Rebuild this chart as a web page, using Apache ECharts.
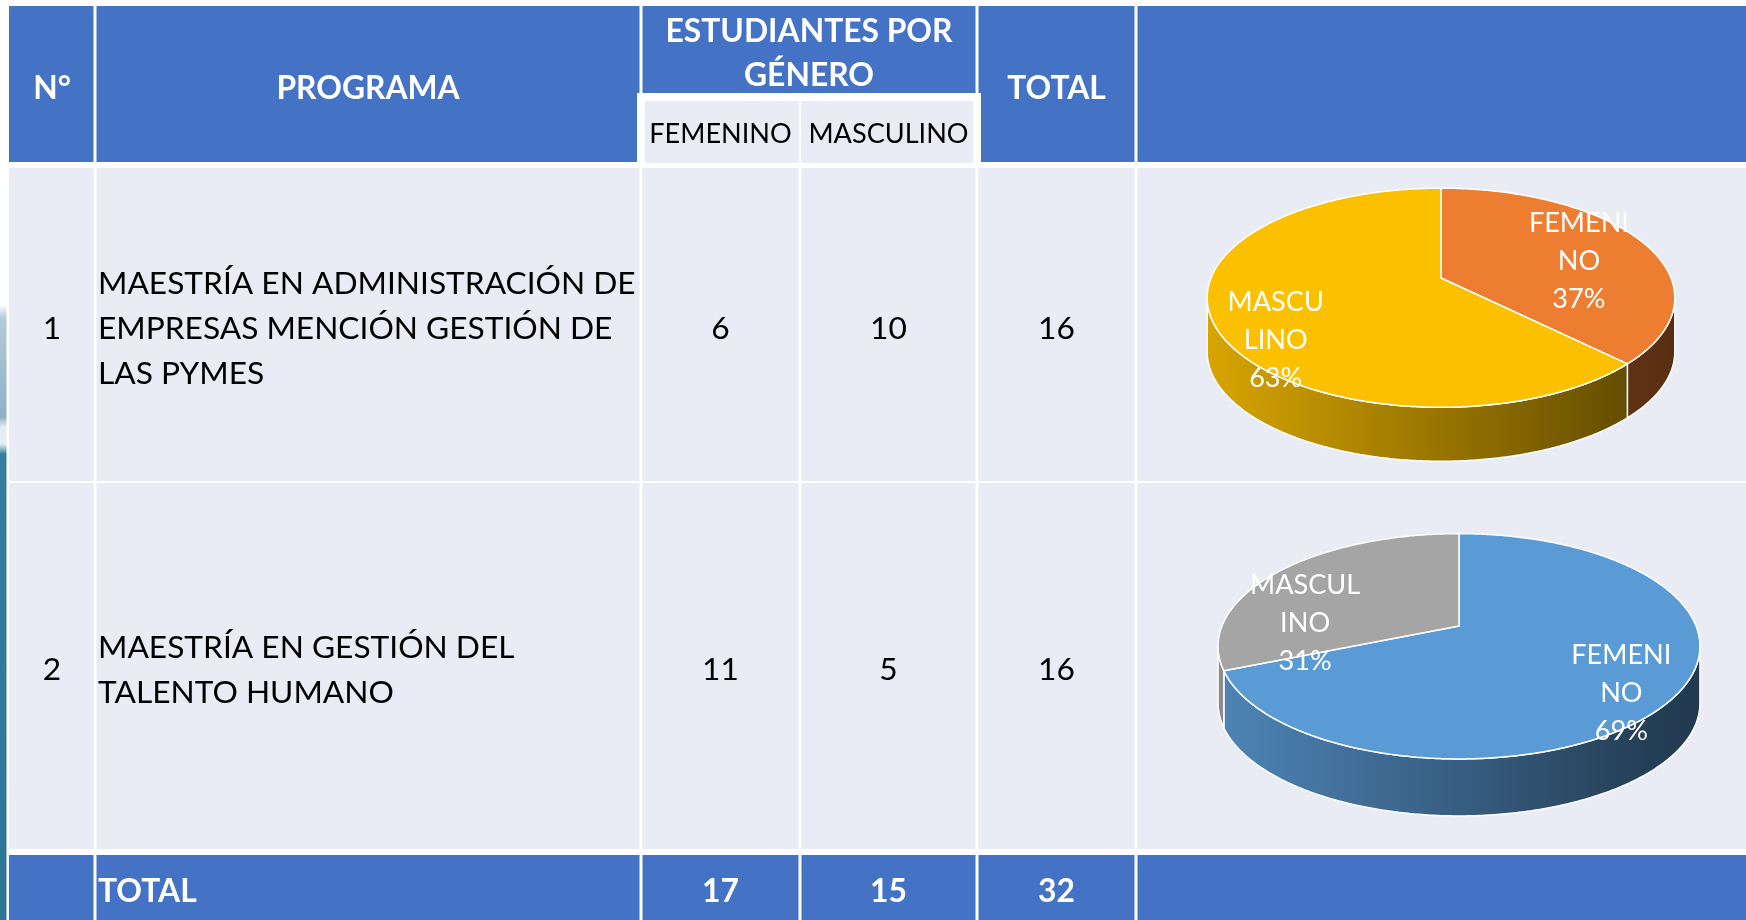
<!DOCTYPE html>
<html>
<head>
<meta charset="utf-8">
<title>Estudiantes por género</title>
<script src="https://cdn.jsdelivr.net/npm/echarts@6/dist/echarts.min.js"></script>
<style>
html, body { margin: 0; padding: 0; background: #fff; }
#main { width: 1746px; height: 920px; }
</style>
</head>
<body>
<div id="main"></div>
<script>
// datos de la tabla
var numeros = ['1', '2'];
var programas = [
    'MAESTRÍA EN ADMINISTRACIÓN DE\nEMPRESAS MENCIÓN GESTIÓN DE\nLAS PYMES',
    'MAESTRÍA EN GESTIÓN DEL\nTALENTO HUMANO'
];
var femenino = [6, 11];
var masculino = [10, 5];
var totales = [16, 16];
var filaTotal = [17, 15, 32];
var encabezados = ['N°', 'PROGRAMA', 'ESTUDIANTES POR\nGÉNERO', 'TOTAL'];
var generos = ['FEMENINO', 'MASCULINO'];
// etiquetas de las tortas (como aparecen cortadas)
var etiquetasPie = [['FEMENI\nNO', 'MASCU\nLINO'], ['FEMENI\nNO', 'MASCUL\nINO']];
var porcentajes = [['37%', '63%'], ['69%', '31%']];

var FONT = 'Lato, "Open Sans", sans-serif';
var AZUL = '#4472C4', CLARO = '#E9EBF5';

var ctx = document.createElement('canvas').getContext('2d');
function fitSize(text, weight, target) {
    ctx.font = weight + ' 100px ' + FONT;
    return Math.round(1000 * target / ctx.measureText(text).width) / 10;
}
var fsBody = fitSize('MAESTRÍA EN ADMINISTRACIÓN DE', 'normal', 538);
var fsHead = fitSize('ESTUDIANTES POR', 'bold', 287);
var fsSub = fitSize('MASCULINO', 'normal', 160);
var fsPie = fitSize('FEMENI', 'normal', 100);

var colX = [9, 95, 641, 800, 977, 1136, 1746];
var filas = [[168, 481], [483, 849]];

function rect(x0, y0, x1, y1, fill) {
    return { type: 'rect', z: 0, shape: { x: x0, y: y0, width: x1 - x0, height: y1 - y0 }, style: { fill: fill } };
}
function texto(x, y, t, size, weight, color, align, lh) {
    return {
        type: 'text', z: 1, x: x, y: y,
        style: {
            text: t, font: weight + ' ' + size + 'px ' + FONT, fill: color,
            textAlign: align || 'center', textVerticalAlign: 'middle', lineHeight: lh || size * 1.2
        }
    };
}

var els = [];
// franja decorativa izquierda
els.push({
    type: 'rect', z: 0, shape: { x: 0, y: 240, width: 6.5, height: 680 },
    style: {
        fill: new echarts.graphic.LinearGradient(0, 0, 0, 1, [
            { offset: 0, color: '#ffffff' }, { offset: 0.095, color: '#ffffff' },
            { offset: 0.115, color: '#b3cbdb' }, { offset: 0.26, color: '#8eb1c7' },
            { offset: 0.275, color: '#e4edf3' }, { offset: 0.3, color: '#e4edf3' },
            { offset: 0.315, color: '#367c9d' }, { offset: 1, color: '#2d7596' }
        ])
    }
});

// encabezado
els.push(rect(colX[0], 6, colX[1] - 1.5, 162, AZUL));
els.push(rect(colX[1] + 1.5, 6, colX[2] - 1.5, 162, AZUL));
els.push(rect(colX[2] + 1.5, 6, colX[4] - 1.5, 93, AZUL));
els.push(rect(colX[4] + 1.5, 6, colX[5] - 1.5, 162, AZUL));
els.push(rect(colX[5] + 1.5, 6, colX[6], 162, AZUL));
els.push(rect(637, 93, 981, 168, '#ffffff'));
els.push(rect(645, 101, colX[3] - 1, 163, CLARO));
els.push(rect(colX[3] + 1, 101, 973, 163, CLARO));

// filas de datos
filas.forEach(function (f) {
    for (var c = 0; c < 6; c++) {
        els.push(rect(c ? colX[c] + 1.5 : colX[0], f[0], c < 5 ? colX[c + 1] - 1.5 : colX[6], f[1], CLARO));
    }
});
// fila total
for (var c = 0; c < 6; c++) {
    els.push(rect(c ? colX[c] + 1.5 : colX[0], 855, c < 5 ? colX[c + 1] - 1.5 : colX[6], 920, AZUL));
}

function centro(c) { return (colX[c] + colX[c + 1]) / 2; }

els.push(texto(centro(0), 89, encabezados[0], fsHead, 'bold', '#fff'));
els.push(texto(centro(1), 89, encabezados[1], fsHead, 'bold', '#fff'));
els.push(texto((colX[2] + colX[4]) / 2, 54, encabezados[2], fsHead, 'bold', '#fff', 'center', 44));
els.push(texto(centro(4), 89, encabezados[3], fsHead, 'bold', '#fff'));
els.push(texto(centro(2), 134, generos[0], fsSub, 'normal', '#000'));
els.push(texto(centro(3), 134, generos[1], fsSub, 'normal', '#000'));

filas.forEach(function (f, i) {
    var y = (f[0] + f[1]) / 2 + 4;
    els.push(texto(centro(0), y, numeros[i], fsBody, 'normal', '#000'));
    els.push(texto(colX[1] + 3, y, programas[i], fsBody, 'normal', '#000', 'left', 45));
    els.push(texto(centro(2), y, String(femenino[i]), fsBody, 'normal', '#000'));
    els.push(texto(centro(3), y, String(masculino[i]), fsBody, 'normal', '#000'));
    els.push(texto(centro(4), y, String(totales[i]), fsBody, 'normal', '#000'));
});
els.push(texto(colX[1] + 3, 892, 'TOTAL', fsHead, 'bold', '#fff', 'left'));
for (var t = 0; t < 3; t++) {
    els.push(texto(centro(t + 2), 892, String(filaTotal[t]), fsHead, 'bold', '#fff'));
}

// tortas 3D
var pieLayout = [
    { cx: 1441, cy: 278, A: 230, B: 106, depth: 54, k: 0.18, colors: ['#ED7D31', '#FBC000'],
      labelR: 0.7, labelOffset: [[-4, 10], [-9, 32]] },
    { cx: 1459, cy: 626, A: 237, B: 109, depth: 57, k: 0.18, colors: ['#5B9BD5', '#A5A5A5'],
      labelR: 0.7, labelOffset: [[14, 22], [-25, 37]] }
];

function shade(hex, f) {
    var n = parseInt(hex.slice(1), 16);
    return 'rgb(' + Math.round(((n >> 16) & 255) * f) + ',' + Math.round(((n >> 8) & 255) * f) + ',' + Math.round((n & 255) * f) + ')';
}

function pieRender(L, labels, pcts) {
    return function (params, api) {
        var i = params.dataIndex;
        var val = api.value(0), before = api.value(1), tot = api.value(2);
        var a0 = Math.PI / 2 - before / tot * Math.PI * 2;
        var a1 = a0 - val / tot * Math.PI * 2;
        function proj(r, th, dy) {
            var u = r * Math.cos(th), v = r * Math.sin(th), w = 1 + L.k * v;
            return [L.cx + L.A * u / w, L.cy - L.B * v / w + (dy || 0)];
        }
        function arc(s, e, dy) {
            var pts = [], n = Math.max(2, Math.ceil((s - e) / 0.01));
            for (var j = 0; j <= n; j++) pts.push(proj(1, s - (s - e) * j / n, dy));
            return pts;
        }
        var children = [];
        var vs = -Math.PI + Math.asin(L.k), ve = -Math.asin(L.k);
        var s = Math.min(a0, ve), e = Math.max(a1, vs);
        if (s > e) {
            var top = arc(s, e, 0), bot = arc(s, e, L.depth).reverse();
            var base = L.colors[i];
            children.push({
                type: 'polygon', z2: 1,
                shape: { points: top.concat(bot) },
                style: {
                    fill: new echarts.graphic.LinearGradient(L.cx - L.A * 1.02, 0, L.cx + L.A * 1.02, 0, [
                        { offset: 0, color: shade(base, 0.86) },
                        { offset: 0.9, color: shade(base, 0.4) },
                        { offset: 1, color: shade(base, 0.37) }
                    ], true),
                    stroke: '#fff', lineWidth: 1.5
                }
            });
        }
        children.push({
            type: 'polygon', z2: 2,
            shape: { points: [[L.cx, L.cy]].concat(arc(a0, a1, 0)) },
            style: { fill: L.colors[i], stroke: '#fff', lineWidth: 1.5, lineJoin: 'round' }
        });
        var p = proj(L.labelR, (a0 + a1) / 2, 0);
        children.push({
            type: 'text', z2: 10,
            x: p[0] + L.labelOffset[i][0], y: p[1] + L.labelOffset[i][1],
            style: {
                text: labels[i] + '\n' + pcts[i], font: 'normal ' + fsPie + 'px ' + FONT, fill: '#fff',
                textAlign: 'center', textVerticalAlign: 'middle', lineHeight: 38
            }
        });
        return { type: 'group', children: children };
    };
}

var series = pieLayout.map(function (L, r) {
    var vals = [femenino[r], masculino[r]];
    var total = vals[0] + vals[1];
    return {
        type: 'custom',
        coordinateSystem: 'none',
        z: 5,
        silent: true,
        renderItem: pieRender(L, etiquetasPie[r], porcentajes[r]),
        data: vals.map(function (v, i) {
            return { name: generos[i], value: [v, i ? vals[0] : 0, total] };
        })
    };
});

var myChart = echarts.init(document.getElementById('main'));
var option = {
    animation: false,
    backgroundColor: '#ffffff',
    graphic: { elements: els },
    series: series
};
myChart.setOption(option);

window.onresize = function () {
    myChart.resize();
};
</script>
</body>
</html>
